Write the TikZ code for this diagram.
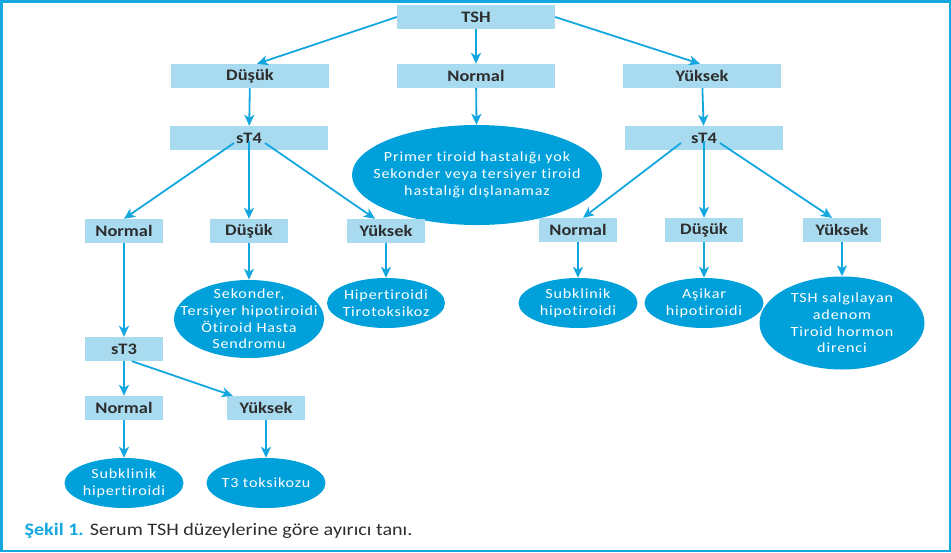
\documentclass[tikz,border=0pt]{standalone}
\usepackage{fontspec}
\setmainfont{Carlito}[FakeStretch=1.15,Ligatures=NoCommon]
\newfontfamily\leaffont{Carlito}[FakeStretch=1.15,LetterSpace=6,Ligatures=NoCommon]
\usetikzlibrary{shapes.geometric,arrows.meta}

\definecolor{boxblue}{RGB}{168,219,240}
\definecolor{leafblue}{RGB}{0,160,219}
\definecolor{linkblue}{RGB}{20,167,223}
\definecolor{labelgray}{RGB}{45,45,45}

\tikzstyle{widebox} = [rectangle,fill=boxblue,minimum width=158pt,minimum height=24pt,inner sep=0pt,text=labelgray,font=\fontsize{16}{19}\selectfont\bfseries]
\tikzstyle{narrowbox} = [widebox,minimum width=78pt]
\tikzstyle{leaf} = [ellipse,fill=leafblue,text=white,align=center,inner sep=-20pt,font=\leaffont\fontsize{14}{16.7}\selectfont]
\tikzstyle{link} = [draw=linkblue,line width=1.8pt,-{Stealth[length=11pt,width=10pt,inset=3pt]}]

\begin{document}
\begin{tikzpicture}[x=1pt,y=-1pt]
	\useasboundingbox (0,0) rectangle (951,552);
	\draw[linkblue,line width=2.5pt] (1.25,1.25) rectangle (949.75,550.75);
	\node[widebox] (tsh) at (476,17) {TSH};
	\node[widebox] (dusuk) at (250,76) {Düşük};
	\node[widebox] (normal) at (476,76) {Normal};
	\node[widebox] (yuksek) at (702,76) {Yüksek};
	\node[widebox] (stl) at (249,138) {sT4};
	\node[widebox] (str) at (704,138) {sT4};
	\node[leaf,minimum width=250pt,minimum height=100pt] (primer) at (477,175) {Primer tiroid hastalığı yok\\Sekonder veya tersiyer tiroid\\hastalığı dışlanamaz};
	\node[narrowbox] (lnormal) at (124,231) {Normal};
	\node[narrowbox] (ldusuk) at (249,231) {Düşük};
	\node[narrowbox] (lyuksek) at (386,231) {Yüksek};
	\node[leaf,minimum width=150pt,minimum height=78pt] (sekonder) at (249,319) {Sekonder,\\Tersiyer hipotiroidi\\Ötiroid Hasta\\Sendromu};
	\node[leaf,minimum width=118pt,minimum height=50pt] (hiper) at (386,303) {Hipertiroidi\\Tirotoksikoz};
	\node[narrowbox] (rnormal) at (578,230) {Normal};
	\node[narrowbox] (rdusuk) at (704,230) {Düşük};
	\node[narrowbox] (ryuksek) at (842,230) {Yüksek};
	\node[leaf,minimum width=119pt,minimum height=50pt] (subhipo) at (578,303) {Subklinik\\hipotiroidi};
	\node[leaf,minimum width=119pt,minimum height=50pt] (asikar) at (704,303) {Aşikar\\hipotiroidi};
	\node[leaf,minimum width=165pt,minimum height=93pt] (adenom) at (842,323) {TSH salgılayan\\adenom\\Tiroid hormon\\direnci};
	\node[narrowbox] (st3) at (124,349) {sT3};
	\node[narrowbox] (t3normal) at (124,408) {Normal};
	\node[narrowbox] (t3yuksek) at (266,408) {Yüksek};
	\node[leaf,minimum width=119pt,minimum height=50pt] (subhiper) at (124,483) {Subklinik\\hipertiroidi};
	\node[leaf,minimum width=119pt,minimum height=50pt] (toksik) at (266,483) {T3 toksikozu};
	\node[anchor=west,text=labelgray,font=\fontsize{17.5}{20}\selectfont] (caption) at (21,531) {\textcolor{linkblue}{\bfseries Şekil 1.} Serum TSH düzeylerine göre ayırıcı tanı.};
	\draw[link] (tsh.west) -- ([xshift=7pt]dusuk.north);
	\draw[link] (tsh) -- (normal);
	\draw[link] (tsh.east) -- ([xshift=-2pt]yuksek.north);
	\draw[link] (dusuk) -- (stl);
	\draw[link] (normal) -- (primer);
	\draw[link] (yuksek) -- (str);
	\draw[link] ([xshift=-15pt,yshift=-5pt]stl.center) -- (lnormal.north);
	\draw[link] ([yshift=-3pt]stl.center) -- (ldusuk.north);
	\draw[link] ([xshift=16pt,yshift=-5pt]stl.center) -- ([xshift=-11pt]lyuksek.north);
	\draw[link] ([xshift=-23pt,yshift=-5pt]str.center) -- ([xshift=5pt]rnormal.north);
	\draw[link] ([yshift=-3pt]str.center) -- (rdusuk.north);
	\draw[link] ([xshift=16pt,yshift=-5pt]str.center) -- ([xshift=-10pt]ryuksek.north);
	\draw[link] (ldusuk) -- (sekonder);
	\draw[link] (lyuksek) -- (hiper);
	\draw[link] (rnormal) -- (subhipo);
	\draw[link] (rdusuk) -- (asikar);
	\draw[link] (ryuksek) -- (adenom);
	\draw[link] (lnormal) -- (st3);
	\draw[link] (st3) -- (t3normal);
	\draw[link] ([xshift=8pt]st3.south) -- ([xshift=6pt]t3yuksek.north west);
	\draw[link] (t3normal) -- (subhiper);
	\draw[link] (t3yuksek) -- (toksik);
\end{tikzpicture}
\end{document}
